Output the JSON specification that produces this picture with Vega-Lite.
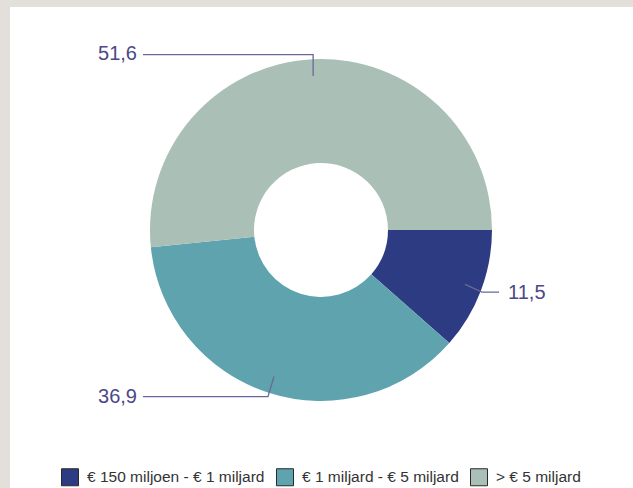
{
  "$schema": "https://vega.github.io/schema/vega-lite/v6.json",
  "width": 623,
  "height": 481,
  "autosize": {"type": "none"},
  "padding": {"left": 10, "top": 7, "right": 0, "bottom": 0},
  "background": "#e3dfda",
  "config": {
    "view": {"fill": "white", "stroke": null},
    "font": "Liberation Sans"
  },
  "datasets": {
    "slices": [
      {"categorie": "€ 150 miljoen - € 1 miljard", "volgorde": 1, "waarde": 11.5},
      {"categorie": "€ 1 miljard - € 5 miljard", "volgorde": 2, "waarde": 36.9},
      {"categorie": "> € 5 miljard", "volgorde": 3, "waarde": 51.6}
    ],
    "leaders": [
      {"label": "51,6", "punt": 1, "x": -0.046, "y": 0.9},
      {"label": "51,6", "punt": 2, "x": -0.046, "y": 1.026},
      {"label": "51,6", "punt": 3, "x": -1.041, "y": 1.026},
      {"label": "11,5", "punt": 1, "x": 0.842, "y": -0.318},
      {"label": "11,5", "punt": 2, "x": 0.942, "y": -0.363},
      {"label": "11,5", "punt": 3, "x": 1.041, "y": -0.363},
      {"label": "36,9", "punt": 1, "x": -0.275, "y": -0.857},
      {"label": "36,9", "punt": 2, "x": -0.31, "y": -0.975},
      {"label": "36,9", "punt": 3, "x": -1.041, "y": -0.975}
    ],
    "labels": [
      {"label": "51,6", "kant": "links", "x": -1.076, "y": 1.03},
      {"label": "11,5", "kant": "rechts", "x": 1.094, "y": -0.366},
      {"label": "36,9", "kant": "links", "x": -1.076, "y": -0.975}
    ]
  },
  "layer": [
    {
      "data": {"name": "slices"},
      "mark": {"type": "arc", "outerRadius": 171, "innerRadius": 67},
      "encoding": {
        "x": {"datum": 0, "type": "quantitative", "scale": {"domain": [-1.8187, 1.8246], "nice": false, "zero": false}, "axis": null},
        "y": {"datum": 0, "type": "quantitative", "scale": {"domain": [-1.5088, 1.3041], "nice": false, "zero": false}, "axis": null},
        "theta": {"field": "waarde", "type": "quantitative", "stack": true, "scale": {"range": [1.5708, 7.854]}},
        "order": {"field": "volgorde", "type": "quantitative"},
        "color": {
          "field": "categorie",
          "type": "nominal",
          "sort": ["€ 150 miljoen - € 1 miljard", "€ 1 miljard - € 5 miljard", "> € 5 miljard"],
          "scale": {
            "domain": ["€ 150 miljoen - € 1 miljard", "€ 1 miljard - € 5 miljard", "> € 5 miljard"],
            "range": ["#2d3c82", "#5ea3ae", "#aabfb5"]
          },
          "legend": {
            "title": null,
            "orient": "none",
            "direction": "horizontal",
            "legendX": 51,
            "legendY": 461,
            "padding": 0,
            "symbolType": "square",
            "symbolSize": 289,
            "symbolStrokeColor": "#2a2a2a",
            "symbolStrokeWidth": 1,
            "symbolOpacity": 1,
            "labelFontSize": 15.5,
            "labelColor": "#333333",
            "labelOffset": 8,
            "columnPadding": 9,
            "labelLimit": 300
          }
        }
      }
    },
    {
      "data": {"name": "leaders"},
      "mark": {"type": "line", "stroke": "#6b6899", "strokeWidth": 1.3},
      "encoding": {
        "x": {"field": "x", "type": "quantitative"},
        "y": {"field": "y", "type": "quantitative"},
        "detail": {"field": "label"},
        "order": {"field": "punt", "type": "quantitative"}
      }
    },
    {
      "data": {"name": "labels"},
      "transform": [{"filter": "datum.kant === 'links'"}],
      "mark": {"type": "text", "align": "right", "baseline": "middle", "fontSize": 20, "color": "#4a4888"},
      "encoding": {
        "x": {"field": "x", "type": "quantitative"},
        "y": {"field": "y", "type": "quantitative"},
        "text": {"field": "label"}
      }
    },
    {
      "data": {"name": "labels"},
      "transform": [{"filter": "datum.kant === 'rechts'"}],
      "mark": {"type": "text", "align": "left", "baseline": "middle", "fontSize": 20, "color": "#4a4888"},
      "encoding": {
        "x": {"field": "x", "type": "quantitative"},
        "y": {"field": "y", "type": "quantitative"},
        "text": {"field": "label"}
      }
    }
  ]
}
